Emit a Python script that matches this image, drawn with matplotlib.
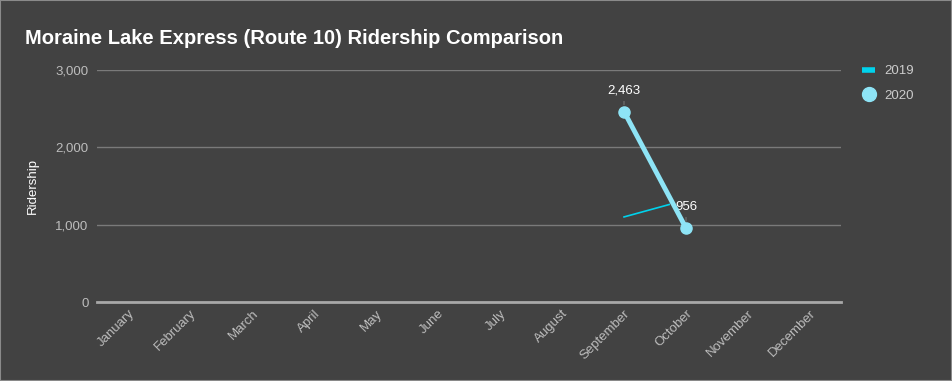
import matplotlib
matplotlib.use("Agg")
import matplotlib.pyplot as plt
from matplotlib.lines import Line2D
import numpy as np

months = ["January", "February", "March", "April", "May", "June", "July",
          "August", "September", "October", "November", "December"]
riders_2019 = [np.nan] * 8 + [1100, 1320] + [np.nan] * 2
riders_2020 = [np.nan] * 8 + [2463, 956] + [np.nan] * 2
y_ticks = [0, 1000, 2000, 3000]

bg = "#424242"
c2019 = "#00d2ec"
c2020 = "#8ee4f6"

plt.rcParams["font.family"] = ["Liberation Sans", "DejaVu Sans"]

fig = plt.figure(figsize=(9.52, 3.81), dpi=100, facecolor=bg)
fig.patches.append(plt.Rectangle((0, 0), 1, 1, transform=fig.transFigure,
                                 fill=False, edgecolor="#8a8a8a", linewidth=1.5))
ax = fig.add_axes([0.1019, 0.2073, 0.7815, 0.609])
ax.set_facecolor(bg)

x = np.arange(len(months))
ax.plot(x, riders_2019, color=c2019, linewidth=1.2, zorder=2)
ax.plot(x, riders_2020, color=c2020, linewidth=3.5, marker="o", markersize=8, zorder=4)

# value labels sit on a box of the background colour, over the 2019 line
for xi, v in zip(x, riders_2020):
    if np.isnan(v):
        continue
    ax.annotate(f"{int(v):,}", xy=(xi, v), xytext=(0, 11), textcoords="offset points",
                ha="center", va="bottom", color="white", fontsize=9.5, zorder=3,
                bbox=dict(boxstyle="square,pad=0.35", facecolor=bg, edgecolor="none"),
                arrowprops=dict(arrowstyle="-", color="#6a6a6a", lw=1, shrinkA=0, shrinkB=5))

ax.set_xlim(-0.5, 11.5)
ax.set_ylim(0, 3000)
ax.set_yticks(y_ticks)
ax.set_yticklabels([f"{t:,}" for t in y_ticks])
ax.set_xticks(x)
ax.set_xticklabels(months, rotation=45, ha="right", rotation_mode="anchor")
ax.tick_params(axis="x", length=0, colors="#bdbdbd", labelsize=9.5, pad=4)
ax.tick_params(axis="y", length=0, colors="#bdbdbd", labelsize=9.5, pad=6)
ax.grid(axis="y", color="#7a7a7a", linewidth=1)
ax.set_axisbelow(True)
for s in ["top", "right", "left"]:
    ax.spines[s].set_visible(False)
ax.spines["bottom"].set_color("#a8a8a8")
ax.spines["bottom"].set_linewidth(2)

ax.set_ylabel("Ridership", color="white", fontsize=9.5, labelpad=12)
ax.set_xlabel("Month", color="#bdbdbd", fontsize=9.5, labelpad=20)

fig.text(0.026, 0.90, "Moraine Lake Express (Route 10) Ridership Comparison",
         color="white", fontsize=14.5, fontweight="bold", va="center", ha="left")

handles = [Line2D([0], [0], color=c2019, linewidth=4, solid_capstyle="butt"),
           Line2D([0], [0], color=c2020, linestyle="none", marker="o", markersize=10)]
fig.legend(handles, ["2019", "2020"], loc="upper left", bbox_to_anchor=(0.893, 0.86),
           frameon=False, fontsize=9.5, handlelength=1.0, labelspacing=0.9,
           handletextpad=0.7, labelcolor="#cccccc")

fig.savefig("out.png", dpi=100, facecolor=bg)
